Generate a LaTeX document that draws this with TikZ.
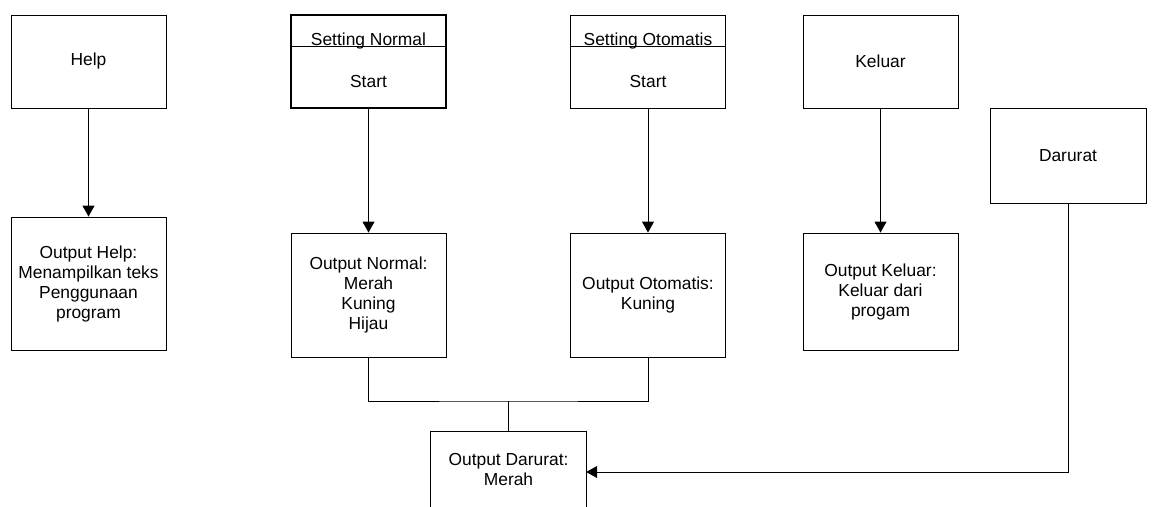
\documentclass[tikz,border=0pt]{standalone}
\usepackage{fontspec}
\setmainfont{Liberation Sans}
\usetikzlibrary{arrows.meta}
\begin{document}
\begin{tikzpicture}[x=1pt,y=-1pt,
  every node/.style={font=\fontsize{17.4}{20}\selectfont},
  box/.style={draw=black,line width=0.9pt,minimum width=155pt,inner sep=0pt,align=center},
  txt/.style={inner sep=0pt,align=center},
  conn/.style={draw=black,line width=0.9pt},
  arr/.style={conn,-{Triangle[length=11pt,width=12pt]}}]
\useasboundingbox (0,0) rectangle (1153,506);
% top row
\node[box,minimum height=93pt] (help) at (88.5,61.5) {Help};
\node[box,minimum height=93pt,line width=1.5pt] (sn) at (368.5,61.5) {};
\node[box,minimum height=93pt] (so) at (648,61.5) {};
\node[box,minimum height=93pt] (kel) at (880.5,61.5) {Keluar};
\node[box,minimum height=95pt,minimum width=156pt] (dar) at (1068,155.5) {Darurat};
\coordinate (snd) at (sn.west |- 0,46);
\coordinate (sod) at (so.west |- 0,46);
\node[txt] (snh) at (368.5,41.5) {Setting Normal};
\node[txt] (sns) at (368.5,82) {Start};
\node[txt] (soh) at (648,41.5) {Setting Otomatis};
\node[txt] (sos) at (648,82) {Start};
\draw[conn] (snd) -- (snd -| sn.east);
\draw[conn] (sod) -- (sod -| so.east);
% outputs
\node[box,minimum height=133pt] (oh) at (88.5,283.5) {Output Help:\\Menampilkan teks\\Penggunaan\\program};
\node[box,minimum height=124pt] (on) at (368.5,295) {Output Normal:\\Merah\\Kuning\\Hijau};
\node[box,minimum height=124pt] (oo) at (648,295) {Output Otomatis:\\Kuning};
\node[box,minimum height=117pt] (ok) at (880.5,291.5) {Output Keluar:\\Keluar dari\\progam};
\node[txt,minimum width=155pt,minimum height=76pt] (od) at (508.5,470) {Output Darurat:\\Merah};
\draw[conn] (od.south west) -- (od.north west) -- (od.north east) -- (od.south east);
% connectors
\draw[arr] (help) -- (oh);
\draw[arr] (sn) -- (on);
\draw[arr] (so) -- (oo);
\draw[arr] (kel) -- (ok);
\coordinate (mj) at (508.5,401);
\draw[conn] (on.south) |- (mj) -| (oo.south);
\draw[conn] (mj) -- (od.north);
\coordinate (dr) at (1068,472);
\draw[arr] (dar.south) -- (dr) -- (dr -| od.east);
\end{tikzpicture}
\end{document}
